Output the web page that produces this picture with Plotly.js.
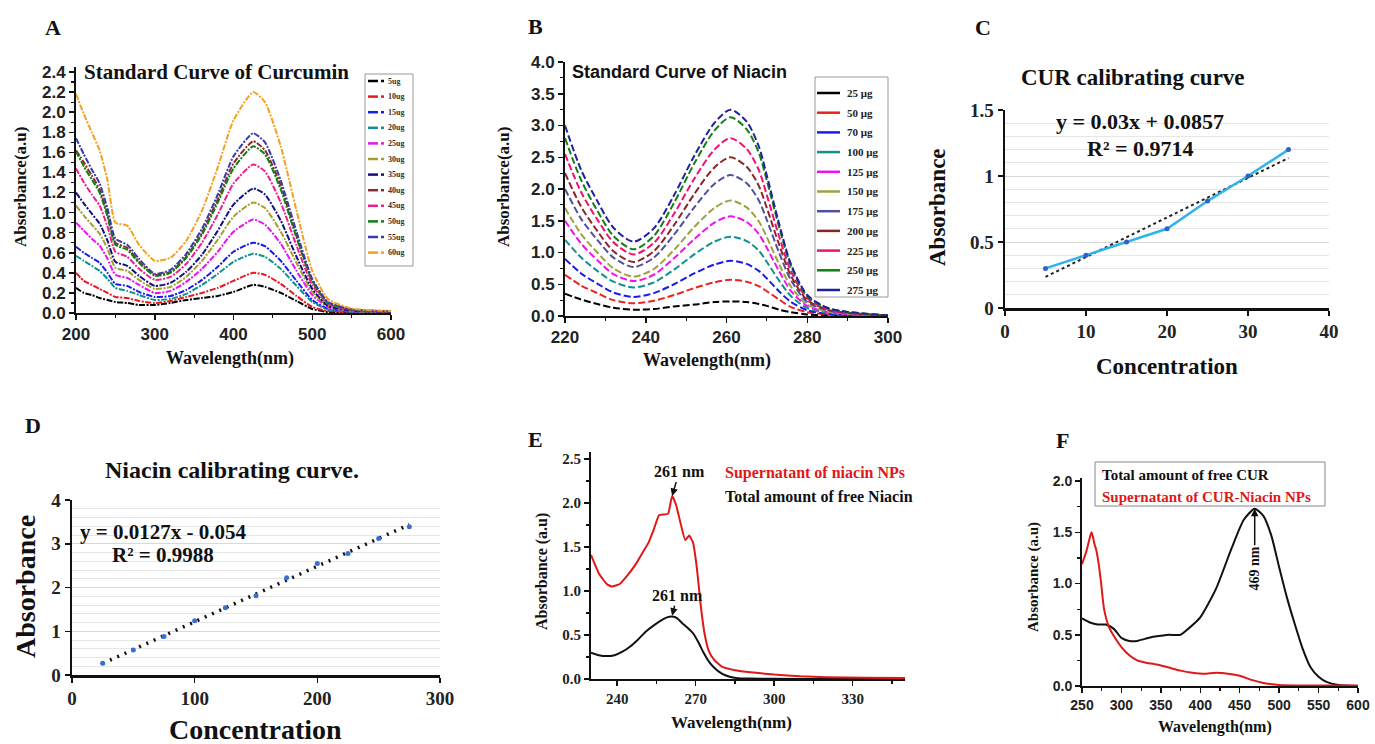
<!DOCTYPE html>
<html><head><meta charset="utf-8">
<script src="https://cdn.plot.ly/plotly-3.0.1.min.js"></script>
<style>html,body{margin:0;padding:0;background:#fff}#chart{width:1375px;height:744px}</style>
</head><body><div id="chart"></div>
<script>
// ---------- Panel A : Standard Curve of Curcumin ----------
const wlA = [200,210,220,230,240,250,265,280,300,320,340,360,380,400,425,440,460,480,500,520,550,600];
const namesA = ["5ug","10ug","15ug","20ug","25ug","30ug","35ug","40ug","45ug","50ug","55ug","60ug"];
const colorsA = ["#000000","#e8191e","#1a1aee","#109090","#ee10ee","#a0a030","#101080","#8b2a2a","#ee2090","#108010","#3a3ab0","#f5a020"];
const cur5  = [0.25,0.20,0.18,0.15,0.13,0.11,0.10,0.08,0.08,0.10,0.13,0.15,0.17,0.21,0.28,0.26,0.20,0.12,0.04,0.01,0.005,0.003];
const cur10 = [0.40,0.32,0.28,0.24,0.20,0.16,0.15,0.12,0.10,0.12,0.16,0.20,0.25,0.32,0.40,0.38,0.29,0.17,0.06,0.02,0.008,0.004];
const cur15 = [0.66,0.60,0.55,0.50,0.40,0.29,0.27,0.21,0.16,0.17,0.23,0.33,0.46,0.61,0.70,0.665,0.52,0.32,0.13,0.04,0.014,0.007];
const cur20 = [0.57,0.52,0.47,0.42,0.34,0.25,0.22,0.18,0.13,0.14,0.19,0.28,0.39,0.51,0.59,0.56,0.44,0.27,0.11,0.035,0.012,0.006];
const cur25 = [0.90,0.82,0.74,0.67,0.54,0.38,0.35,0.28,0.20,0.22,0.31,0.44,0.61,0.81,0.93,0.88,0.69,0.42,0.18,0.06,0.02,0.01];
const cur30 = [1.07,0.97,0.88,0.79,0.64,0.45,0.42,0.33,0.24,0.26,0.36,0.52,0.73,0.96,1.10,1.045,0.81,0.50,0.21,0.07,0.02,0.01];
const cur35 = [1.20,1.09,0.99,0.89,0.72,0.51,0.47,0.37,0.27,0.30,0.41,0.58,0.82,1.08,1.24,1.18,0.92,0.56,0.24,0.07,0.025,0.012];
const cur40 = [1.62,1.50,1.37,1.23,0.99,0.70,0.65,0.51,0.38,0.41,0.56,0.80,1.13,1.49,1.71,1.62,1.27,0.77,0.32,0.10,0.034,0.017];
const cur45 = [1.44,1.30,1.18,1.07,0.86,0.61,0.56,0.44,0.33,0.36,0.49,0.70,0.98,1.29,1.48,1.41,1.10,0.67,0.28,0.09,0.03,0.015];
const cur50 = [1.61,1.46,1.33,1.20,0.96,0.68,0.63,0.50,0.37,0.40,0.55,0.78,1.10,1.44,1.66,1.58,1.23,0.75,0.32,0.10,0.033,0.017];
const cur55 = [1.74,1.58,1.43,1.29,1.04,0.74,0.68,0.54,0.39,0.43,0.59,0.84,1.18,1.56,1.79,1.70,1.32,0.81,0.34,0.11,0.036,0.018];
const cur60 = [2.18,1.98,1.80,1.62,1.32,0.90,0.87,0.68,0.52,0.55,0.72,1.02,1.45,1.92,2.20,2.10,1.66,1.02,0.42,0.14,0.045,0.02];
const seriesA = [cur5,cur10,cur15,cur20,cur25,cur30,cur35,cur40,cur45,cur50,cur55,cur60];

// ---------- Panel B : Standard Curve of Niacin ----------
const wlB = [220,224,228,232,237,242,247,252,257,261,265,268,270,273,276,280,285,290,300];
const namesB = ["25 μg","50 μg","70 μg","100 μg","125 μg","150 μg","175 μg","200 μg","225 μg","250 μg","275 μg"];
const colorsB = ["#000000","#ee2020","#1a1af0","#109090","#f010f0","#a0a040","#5050a0","#8b2525","#f01070","#108010","#2020a0"];
const nia25  = [0.35,0.26,0.19,0.13,0.10,0.11,0.15,0.18,0.22,0.23,0.22,0.19,0.16,0.10,0.06,0.025,0.01,0.005,0.001];
const nia50  = [0.65,0.48,0.36,0.25,0.20,0.24,0.33,0.44,0.53,0.57,0.54,0.47,0.39,0.26,0.14,0.06,0.023,0.011,0.002];
const nia70  = [0.90,0.67,0.51,0.37,0.30,0.36,0.50,0.67,0.81,0.87,0.82,0.71,0.59,0.39,0.22,0.09,0.035,0.017,0.003];
const nia100 = [1.20,0.92,0.71,0.54,0.45,0.53,0.73,0.97,1.17,1.25,1.18,1.03,0.85,0.56,0.31,0.125,0.05,0.025,0.004];
const nia125 = [1.50,1.14,0.88,0.66,0.55,0.65,0.91,1.21,1.47,1.57,1.48,1.29,1.07,0.71,0.39,0.16,0.06,0.03,0.005];
const nia150 = [1.70,1.29,1.00,0.75,0.62,0.74,1.04,1.40,1.70,1.82,1.71,1.49,1.24,0.82,0.46,0.18,0.07,0.036,0.006];
const nia175 = [2.00,1.53,1.20,0.92,0.77,0.92,1.28,1.71,2.08,2.22,2.09,1.82,1.51,1.00,0.56,0.22,0.09,0.044,0.008];
const nia200 = [2.25,1.72,1.34,1.02,0.85,1.02,1.43,1.92,2.34,2.50,2.35,2.05,1.70,1.13,0.63,0.25,0.10,0.05,0.008];
const nia225 = [2.55,1.95,1.52,1.16,0.97,1.15,1.61,2.16,2.62,2.80,2.63,2.30,1.90,1.26,0.70,0.28,0.11,0.056,0.01];
const nia250 = [2.80,2.14,1.66,1.26,1.05,1.26,1.78,2.40,2.92,3.13,2.94,2.57,2.13,1.41,0.78,0.31,0.125,0.063,0.01];
const nia275 = [3.00,2.30,1.81,1.39,1.17,1.38,1.90,2.52,3.04,3.25,3.06,2.67,2.21,1.46,0.81,0.33,0.13,0.065,0.01];
const seriesB = [nia25,nia50,nia70,nia100,nia125,nia150,nia175,nia200,nia225,nia250,nia275];

// ---------- Panel C : CUR calibrating curve ----------
const concC = [5,10,15,20,25,30,35];
const absC  = [0.30,0.40,0.50,0.60,0.81,1.00,1.20];
const trendCx = [5,35];
const trendCy = [0.236,1.136];

// ---------- Panel D : Niacin calibrating curve ----------
const concD = [25,50,75,100,125,150,175,200,225,250,275];
const absD  = [0.27,0.57,0.88,1.24,1.54,1.81,2.22,2.55,2.78,3.12,3.39];
const trendDx = [25,275];
const trendDy = [0.264,3.439];

// ---------- Panel E ----------
const wlEred = [230,233,236,238,241,244,247,250,252,254,256,258,259.5,261,262.5,264,266,267.5,269,270.5,272,273.5,275,277,280,285,290,300,310,320,335,350];
const absEred = [1.41,1.20,1.08,1.05,1.08,1.18,1.30,1.45,1.55,1.70,1.86,1.87,1.88,2.08,1.98,1.80,1.58,1.63,1.55,1.25,0.82,0.50,0.32,0.22,0.14,0.10,0.08,0.05,0.03,0.02,0.015,0.01];
const wlEblk = [230,233,236,239,242,245,248,251,254,257,259,261,263,265,267,269,271,273,275,277,280,283,286,290,300,320,350];
const absEblk = [0.30,0.27,0.26,0.27,0.31,0.37,0.45,0.54,0.61,0.67,0.70,0.71,0.69,0.63,0.58,0.52,0.42,0.30,0.20,0.13,0.06,0.025,0.01,0.005,0.003,0.0,0.0];

// ---------- Panel F ----------
const wlFblk = [250,260,270,280,290,300,310,320,330,340,350,360,375,385,400,420,440,455,469,480,490,500,510,520,530,540,550,560,575,600];
const absFblk = [0.66,0.62,0.60,0.60,0.56,0.47,0.44,0.44,0.46,0.48,0.49,0.50,0.50,0.56,0.67,0.95,1.35,1.62,1.73,1.66,1.47,1.16,0.86,0.60,0.36,0.18,0.09,0.04,0.01,0.0];
const wlFred = [250,255,259,262,264,266,268,271,274,278,284,291,300,310,320,330,345,360,375,390,405,420,435,450,465,480,500,600];
const absFred = [1.19,1.30,1.42,1.50,1.45,1.38,1.33,1.20,1.02,0.75,0.58,0.48,0.38,0.30,0.25,0.23,0.21,0.18,0.15,0.13,0.12,0.13,0.12,0.10,0.06,0.03,0.01,0.005];

// ---------- helpers ----------
const W = 1375, H = 744;
const px = v => v / W;
const py = v => 1 - v / H;
const SERIF = "Liberation Serif";
const SANS = "Liberation Sans";

const traces = [];
seriesA.forEach((s, i) => traces.push({
  x: wlA, y: s, xaxis: 'x', yaxis: 'y', type: 'scatter', mode: 'lines', name: namesA[i],
  line: {color: colorsA[i], width: 2, shape: 'spline', smoothing: 0.55, dash: '6px,1.5px,2px,1.5px'}, showlegend: false
}));
seriesB.forEach((s, i) => traces.push({
  x: wlB, y: s, xaxis: 'x2', yaxis: 'y2', type: 'scatter', mode: 'lines', name: namesB[i],
  line: {color: colorsB[i], width: 2, shape: 'spline', smoothing: 0.8, dash: '7px,3px'}, showlegend: false
}));
traces.push({x: trendCx, y: trendCy, xaxis: 'x3', yaxis: 'y3', mode: 'lines', line: {color: '#222', width: 2, dash: 'dot'}, showlegend: false});
traces.push({x: concC, y: absC, xaxis: 'x3', yaxis: 'y3', mode: 'lines+markers', line: {color: '#2eb4ea', width: 2.5}, marker: {color: '#3060c8', size: 5}, showlegend: false});
traces.push({x: trendDx, y: trendDy, xaxis: 'x4', yaxis: 'y4', mode: 'lines', line: {color: '#111', width: 3.5, dash: '2px,6px'}, showlegend: false});
traces.push({x: concD, y: absD, xaxis: 'x4', yaxis: 'y4', mode: 'markers', marker: {color: '#3a6fd0', size: 5}, showlegend: false});
traces.push({x: wlEblk, y: absEblk, xaxis: 'x5', yaxis: 'y5', mode: 'lines', line: {color: '#111', width: 2, shape: 'spline', smoothing: 0.5}, showlegend: false});
traces.push({x: wlEred, y: absEred, xaxis: 'x5', yaxis: 'y5', mode: 'lines', line: {color: '#e01818', width: 2, shape: 'spline', smoothing: 0.4}, showlegend: false});
traces.push({x: wlFblk, y: absFblk, xaxis: 'x6', yaxis: 'y6', mode: 'lines', line: {color: '#111', width: 2, shape: 'spline', smoothing: 0.6}, showlegend: false});
traces.push({x: wlFred, y: absFred, xaxis: 'x6', yaxis: 'y6', mode: 'lines', line: {color: '#e01818', width: 2, shape: 'spline', smoothing: 0.6}, showlegend: false});

function ax(domain, range, dtick, minorDtick, tickfont, extra) {
  return Object.assign({
    domain: domain, range: range, dtick: dtick, tick0: 0, showline: true, linecolor: '#111', linewidth: 2,
    ticks: 'outside', ticklen: 5, tickwidth: 1.5, tickcolor: '#111', zeroline: false, showgrid: false,
    tickfont: tickfont, fixedrange: true,
    minor: minorDtick ? {ticks: 'outside', ticklen: 3, tickwidth: 1.2, tickcolor: '#111', dtick: minorDtick} : undefined
  }, extra || {});
}
const fSansA = {family: SANS, size: 17, color: '#222', weight: 'bold'};
const fSerifC = {family: SERIF, size: 19, color: '#222', weight: 'bold'};
const fSerifE = {family: SERIF, size: 15, color: '#222', weight: 'bold'};
const fSansF = {family: SANS, size: 14, color: '#222', weight: 'bold'};

const layout = {
  width: W, height: H, margin: {l: 0, r: 0, t: 0, b: 0}, paper_bgcolor: '#fff', plot_bgcolor: 'rgba(0,0,0,0)',
  showlegend: false,
  xaxis: ax([px(76), px(391)], [200, 600], 100, 50, fSansA, {anchor: 'y'}),
  yaxis: ax([py(313), py(67)], [0, 2.45], 0.2, 0.1, fSansA, {anchor: 'x', tickformat: '.1f'}),
  xaxis2: ax([px(565), px(888)], [220, 300], 20, 10, fSansA, {anchor: 'y2'}),
  yaxis2: ax([py(316), py(62)], [0, 4.0], 0.5, 0.25, fSansA, {anchor: 'x2', tickformat: '.1f'}),
  xaxis3: ax([px(1005), px(1329)], [0, 40], 10, null, fSerifC, {anchor: 'y3', linewidth: 2.5}),
  yaxis3: ax([py(308), py(110)], [0, 1.5], 0.5, null, fSerifC, {anchor: 'x3', linewidth: 2.5, showgrid: true, gridcolor: '#d9d9d9', gridwidth: 1,
    minor: {dtick: 0.1, showgrid: true, gridcolor: '#e6e6e6', gridwidth: 1}}),
  xaxis4: ax([px(72), px(440)], [0, 300], 100, null, fSerifC, {anchor: 'y4', linewidth: 2.5}),
  yaxis4: ax([py(675), py(500)], [0, 4], 1, null, fSerifC, {anchor: 'x4', linewidth: 2.5, showgrid: true, gridcolor: '#d9d9d9', gridwidth: 1,
    minor: {dtick: 0.2, showgrid: true, gridcolor: '#e6e6e6', gridwidth: 1}}),
  xaxis5: ax([px(591), px(905)], [230, 350], 30, 15, fSerifE, {anchor: 'y5', tick0: 240}),
  yaxis5: ax([py(679), py(452)], [0, 2.58], 0.5, 0.25, fSerifE, {anchor: 'x5', tickformat: '.1f'}),
  xaxis6: ax([px(1082), px(1358)], [250, 600], 50, 25, fSansF, {anchor: 'y6'}),
  yaxis6: ax([py(686), py(478)], [0, 2.03], 0.5, 0.25, fSansF, {anchor: 'x6', tickformat: '.1f'}),
  annotations: [], shapes: []
};

function txt(x, y, text, size, opts) {
  layout.annotations.push(Object.assign({
    xref: 'paper', yref: 'paper', x: px(x), y: py(y), text: text, showarrow: false,
    xanchor: 'center', yanchor: 'middle',
    font: {family: SERIF, size: size, color: '#111', weight: 'bold'}
  }, opts || {}));
}
// panel letters
txt(53, 28, 'A', 22); txt(535, 27, 'B', 22); txt(983, 28, 'C', 22);
txt(33, 425, 'D', 22); txt(535, 439, 'E', 22); txt(1062, 440, 'F', 22);
// A
txt(82, 72, 'Standard Curve of Curcumin', 21, {xanchor: 'left'});
txt(20, 187, 'Absorbance(a.u)', 17, {textangle: -90});
txt(230, 358, 'Wavelength(nm)', 18);
// B
txt(570, 72, 'Standard Curve of Niacin', 18, {xanchor: 'left', font: {family: SANS, size: 18, color: '#111', weight: 'bold'}});
txt(503, 187, 'Absorbance(a.u)', 17, {textangle: -90});
txt(707, 360, 'Wavelength(nm)', 18);
// C
txt(1133, 77, 'CUR calibrating curve', 23);
txt(1140, 122, 'y = 0.03x + 0.0857', 22);
txt(1140, 148, 'R² = 0.9714', 22);
txt(938, 207, 'Absorbance', 23, {textangle: -90});
txt(1167, 366, 'Concentration', 23);
// D
txt(232, 470, 'Niacin calibrating curve.', 24);
txt(163, 532, 'y = 0.0127x - 0.054', 21);
txt(163, 555, 'R² = 0.9988', 21);
txt(25, 587, 'Absorbance', 28, {textangle: -90});
txt(256, 729, 'Concentration', 28);
// E
txt(542, 572, 'Absorbance (a.u)', 16, {textangle: -90});
txt(731, 722, 'Wavelength(nm)', 17);
txt(723, 473, 'Supernatant of niacin NPs', 16, {xanchor: 'left', font: {family: SERIF, size: 16, color: '#e01818', weight: 'bold'}});
txt(723, 496, 'Total amount of free Niacin', 16, {xanchor: 'left'});
layout.annotations.push({xref: 'x5', yref: 'y5', x: 261, y: 2.08, ax: 7, ay: -24, text: '261 nm', showarrow: true,
  arrowhead: 2, arrowsize: 1, arrowwidth: 1.5, arrowcolor: '#111', font: {family: SERIF, size: 16, color: '#111', weight: 'bold'}});
layout.annotations.push({xref: 'x5', yref: 'y5', x: 261, y: 0.72, ax: 5, ay: -20, text: '261 nm', showarrow: true,
  arrowhead: 2, arrowsize: 1, arrowwidth: 1.5, arrowcolor: '#111', font: {family: SERIF, size: 16, color: '#111', weight: 'bold'}});
// F
txt(1033, 577, 'Absorbance (a.u)', 15, {textangle: -90});
txt(1215, 727, 'Wavelength(nm)', 16);
layout.shapes.push({type: 'rect', xref: 'paper', yref: 'paper', x0: px(1095), x1: px(1325), y0: py(462), y1: py(506), line: {color: '#888', width: 1}});
txt(1100, 475, 'Total amount of free CUR', 15, {xanchor: 'left'});
txt(1100, 497, 'Supernatant of CUR-Niacin NPs', 15, {xanchor: 'left', font: {family: SERIF, size: 15, color: '#e01818', weight: 'bold'}});
layout.annotations.push({xref: 'x6', yref: 'y6', x: 469, y: 1.73, ax: 0, ay: 60, text: '469 nm', textangle: -90, showarrow: true,
  arrowhead: 2, arrowsize: 1, arrowwidth: 1.5, arrowcolor: '#111', font: {family: SERIF, size: 14, color: '#111', weight: 'bold'}});

// manual legends (A and B)
layout.shapes.push({type: 'rect', xref: 'paper', yref: 'paper', x0: px(365), x1: px(413), y0: py(74), y1: py(266), line: {color: '#999', width: 1}});
namesA.forEach((n, i) => {
  const y = 81 + i * 15.6;
  layout.shapes.push({type: 'line', xref: 'paper', yref: 'paper', x0: px(368), x1: px(378), y0: py(y), y1: py(y), line: {color: colorsA[i], width: 2.5}});
  layout.shapes.push({type: 'line', xref: 'paper', yref: 'paper', x0: px(381), x1: px(384), y0: py(y), y1: py(y), line: {color: colorsA[i], width: 2.5}});
  txt(386, y, n, 8, {xanchor: 'left', font: {family: SERIF, size: 8, color: '#333', weight: 'bold'}});
});
layout.shapes.push({type: 'rect', xref: 'paper', yref: 'paper', x0: px(815), x1: px(888), y0: py(77), y1: py(297), line: {color: '#999', width: 1}});
namesB.forEach((n, i) => {
  const y = 93 + i * 19.7;
  layout.shapes.push({type: 'line', xref: 'paper', yref: 'paper', x0: px(817), x1: px(840), y0: py(y), y1: py(y), line: {color: colorsB[i], width: 2.5}});
  txt(845, y, n, 11, {xanchor: 'left', font: {family: SERIF, size: 11, color: '#222', weight: 'bold'}});
});

Plotly.newPlot('chart', traces, layout, {staticPlot: true, displayModeBar: false});
</script></body></html>
